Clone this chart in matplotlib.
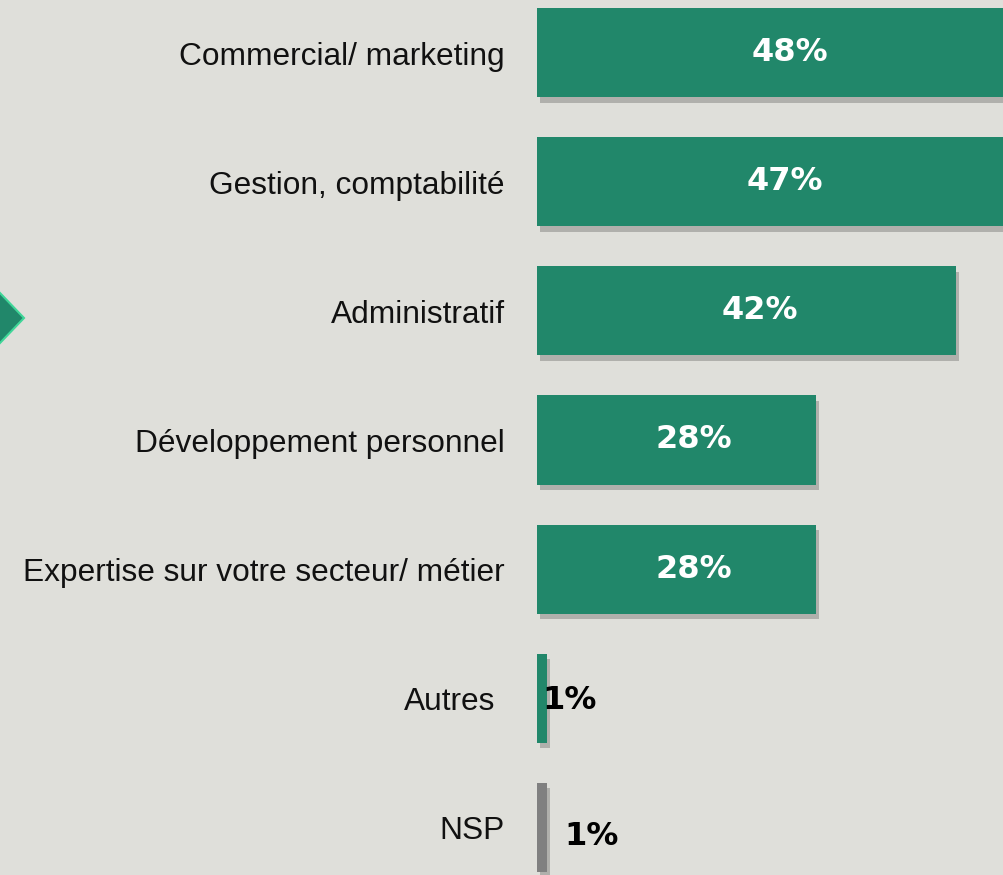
import matplotlib.pyplot as plt
import matplotlib.patheffects as pe
from matplotlib.patches import Polygon

categories = ['Commercial/ marketing', 'Gestion, comptabilité', 'Administratif',
              'Développement personnel', 'Expertise sur votre secteur/ métier',
              'Autres', 'NSP']
values = [48, 47, 42, 28, 28, 1, 1]
colors = ['#21876a'] * 6 + ['#808080']

bg = '#dfdfda'
W, H = 1004, 875

fig = plt.figure(figsize=(W / 100, H / 100), dpi=100, facecolor=bg)
ax = fig.add_axes([537 / W, -17 / H, 467 / W, 904 / H])
ax.set_facecolor(bg)

y = list(range(len(categories)))
shadow = [pe.SimplePatchShadow(offset=(2, -4), shadow_rgbFace='#444444', alpha=0.3), pe.Normal()]
bars = ax.barh(y, values, height=0.69, color=colors, path_effects=shadow)

ax.set_xlim(0, 46.8)
ax.set_ylim(6.5, -0.5)
ax.axis('off')

# category labels to the left of the bars
for yi, cat in zip(y, categories):
    dx = -42 if cat == 'Autres' else -32
    ax.annotate(cat, (0, yi), xytext=(dx, -12), textcoords='offset pixels',
                ha='right', va='baseline', fontsize=22.8, color='#111111',
                family='Liberation Sans')

# value labels
for yi, v in zip(y, values):
    if v > 5:
        dx = 17 if v < 30 else 13
        ax.annotate(f'{v}%', (v / 2, yi), xytext=(dx, 0), textcoords='offset pixels',
                    ha='center', va='center', fontsize=23, fontweight='bold', color='white')
    elif yi == 5:
        ax.annotate(f'{v}%', (0, yi), xytext=(33, -2), textcoords='offset pixels',
                    ha='center', va='center', fontsize=23, fontweight='bold', color='black')
    else:
        ax.annotate(f'{v}%', (0, yi), xytext=(55, -9), textcoords='offset pixels',
                    ha='center', va='center', fontsize=23, fontweight='bold', color='black')

# arrow marker on the left edge
arrow = Polygon([[-26 / W, 1 - 318 / H], [0, 1 - 293 / H], [24 / W, 1 - 318 / H], [0, 1 - 343 / H]],
                closed=True, transform=fig.transFigure, facecolor='#21876a',
                edgecolor='#3fd698', linewidth=1.5)
fig.patches.append(arrow)

fig.savefig('out.png', dpi=100, facecolor=bg)
